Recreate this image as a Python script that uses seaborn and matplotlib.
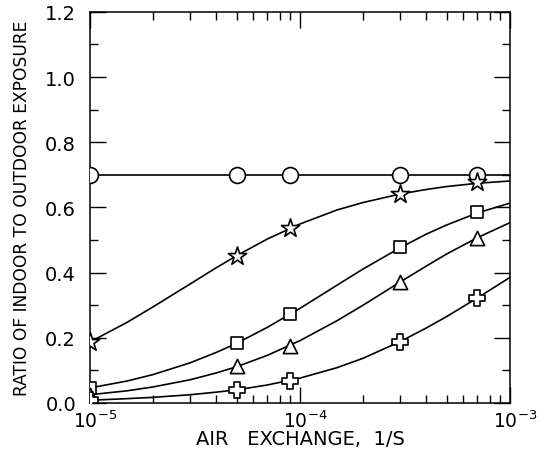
import numpy as np
import pandas as pd
import matplotlib
matplotlib.use("Agg")
import matplotlib.pyplot as plt
import matplotlib.transforms as mtransforms
import seaborn as sns
from matplotlib.ticker import LogLocator, MultipleLocator

# smooth curves (air exchange in 1/s)
curve_x = [1e-5, 1.5e-5, 2e-5, 3e-5, 4e-5, 5e-5, 7e-5, 1e-4,
           1.5e-4, 2e-4, 3e-4, 4e-4, 5e-4, 7e-4, 1e-3]
circle_curve = [0.70] * 15
star_curve = [0.187, 0.247, 0.295, 0.365, 0.415, 0.452, 0.503, 0.549,
              0.592, 0.615, 0.641, 0.655, 0.664, 0.674, 0.681]
square_curve = [0.046, 0.067, 0.087, 0.123, 0.155, 0.183, 0.232, 0.290,
                0.361, 0.411, 0.476, 0.518, 0.546, 0.583, 0.613]
triangle_curve = [0.025, 0.037, 0.049, 0.071, 0.092, 0.111, 0.146, 0.191,
                  0.252, 0.300, 0.371, 0.420, 0.457, 0.507, 0.553]
cross_curve = [0.008, 0.013, 0.017, 0.025, 0.033, 0.040, 0.055, 0.076,
               0.108, 0.137, 0.188, 0.230, 0.265, 0.322, 0.385]

# plotted symbols
marker_x = [1e-5, 5e-5, 9e-5, 3e-4, 7e-4]
circle_pts = [0.70, 0.70, 0.70, 0.70, 0.70]
star_pts = [0.187, 0.452, 0.536, 0.641, 0.678]
square_pts = [0.046, 0.185, 0.273, 0.478, 0.585]
triangle_pts = [0.025, 0.112, 0.176, 0.371, 0.505]
cross_pts = [0.008, 0.038, 0.068, 0.187, 0.322]

sns.set_style("ticks")
plt.rcParams["font.family"] = ["DejaVu Sans"]
plt.rcParams.update({"text.color": "black", "axes.labelcolor": "black",
                     "xtick.color": "black", "ytick.color": "black"})

fig = plt.figure(figsize=(5.39, 4.6), dpi=100)
ax = fig.add_axes([0.167, 0.122, 0.779, 0.85])

series = [
    (circle_curve, circle_pts, "o", 130),
    (star_curve, star_pts, "*", 190),
    (square_curve, square_pts, "s", 85),
    (triangle_curve, triangle_pts, "^", 105),
    (cross_curve, cross_pts, "P", 120),
]

for curve, pts, mk, size in series:
    sns.lineplot(x=curve_x, y=curve, color="black", linewidth=1.2, ax=ax, zorder=2)
    sns.scatterplot(x=marker_x, y=pts, marker=mk, s=size, color="white",
                    edgecolor="black", linewidth=1.2, ax=ax, zorder=3)

ax.set_xscale("log")
ax.set_xlim(1e-5, 1e-3)
ax.set_ylim(0, 1.2)
ax.yaxis.set_major_locator(MultipleLocator(0.2))
ax.yaxis.set_minor_locator(MultipleLocator(0.1))
ax.xaxis.set_major_locator(LogLocator(base=10))
ax.xaxis.set_minor_locator(LogLocator(base=10, subs=np.arange(2, 10)))
ax.yaxis.set_major_formatter(plt.FuncFormatter(lambda v, p: f"{v:.1f}"))

ax.tick_params(which="both", direction="in", top=True, right=True,
               width=1.0, color="black", labelcolor="black")
ax.tick_params(which="major", length=11.5)
ax.tick_params(which="minor", length=5.5)
ax.tick_params(axis="y", pad=10, labelsize=14)
ax.tick_params(axis="x", pad=5, labelsize=13.5)
for sp in ax.spines.values():
    sp.set_linewidth(1.1)
    sp.set_color("black")

# the "10" sits on the tick, the exponent hangs to the right
shift = mtransforms.ScaledTranslation(5 / 100, 0, fig.dpi_scale_trans)
for lab in ax.get_xticklabels():
    lab.set_transform(lab.get_transform() + shift)

ax.set_xlabel("AIR   EXCHANGE,  1/S", fontsize=14, labelpad=-1.5)
ax.set_ylabel("RATIO OF INDOOR TO OUTDOOR EXPOSURE", fontsize=12.3, labelpad=10)

fig.savefig("out.png", dpi=100)
